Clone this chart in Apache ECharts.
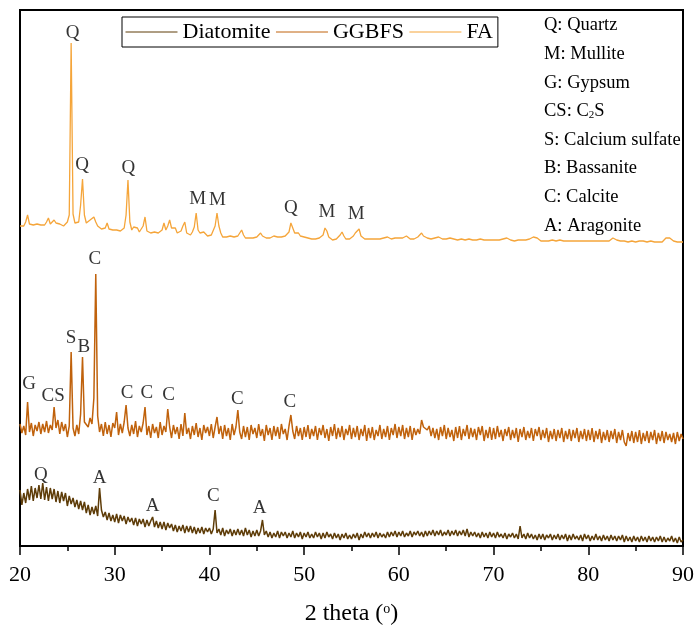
<!DOCTYPE html>
<html>
<head>
<meta charset="utf-8">
<script src="https://cdn.jsdelivr.net/npm/echarts@6/dist/echarts.min.js"></script>
<style>
  html, body { margin: 0; padding: 0; background: #fff; }
  #chart { width: 697px; height: 634px; }
</style>
</head>
<body>
<div id="chart"></div>
<script>
// XRD scans, 2θ from 20° to 90° in 0.2° steps (one row per degree)
const angleStart = 20;
const angleStep = 0.2;

const diatomite = [
  56, 41, 53, 43, 57,
  46, 60, 45, 58, 48,
  61, 47, 63, 46, 59,
  45, 58, 47, 57, 44,
  55, 43, 54, 45, 53,
  40, 50, 42, 48, 39,
  46, 37, 45, 36, 44,
  33, 41, 31, 39, 32,
  40, 30, 58, 36, 29,
  34, 26, 33, 25, 31,
  24, 32, 23, 31, 25,
  30, 22, 29, 24, 28,
  21, 28, 20, 27, 22,
  27, 19, 26, 20, 25,
  29, 19, 25, 18, 24,
  17, 24, 16, 23, 18,
  22, 15, 21, 14, 20,
  15, 21, 13, 20, 14,
  20, 13, 19, 12, 18,
  13, 19, 12, 18, 14,
  18, 12, 17, 36, 13,
  17, 11, 18, 10, 16,
  12, 17, 10, 16, 11,
  17, 11, 16, 10, 18,
  11, 16, 9, 15, 10,
  16, 10, 15, 26, 11,
  15, 9, 14, 8, 13,
  9, 15, 8, 14, 10,
  14, 8, 13, 9, 15,
  8, 13, 9, 14, 7,
  13, 9, 14, 8, 12,
  8, 14, 9, 13, 7,
  13, 8, 14, 9, 12,
  7, 13, 8, 12, 6,
  12, 8, 13, 7, 11,
  7, 12, 8, 13, 6,
  12, 8, 14, 9, 13,
  8, 13, 9, 14, 8,
  13, 9, 12, 8, 14,
  9, 14, 10, 15, 9,
  14, 10, 15, 9, 13,
  10, 15, 9, 14, 11,
  15, 10, 14, 9, 15,
  10, 15, 11, 16, 10,
  15, 11, 16, 10, 14,
  11, 16, 10, 15, 11,
  16, 10, 15, 11, 16,
  10, 17, 9, 14, 10,
  14, 9, 13, 8, 14,
  9, 13, 8, 14, 9,
  13, 8, 14, 9, 12,
  8, 13, 7, 12, 9,
  13, 8, 12, 7, 20,
  8, 12, 7, 13, 8,
  12, 7, 11, 6, 12,
  7, 12, 6, 11, 8,
  12, 6, 11, 7, 12,
  6, 11, 7, 12, 5,
  11, 6, 12, 7, 10,
  6, 11, 5, 12, 7,
  11, 5, 10, 6, 12,
  6, 10, 5, 11, 6,
  10, 5, 11, 6, 10,
  5, 10, 6, 11, 4,
  10, 5, 9, 4, 10,
  5, 9, 4, 10, 5,
  9, 4, 10, 5, 9,
  4, 9, 5, 10, 4,
  9, 4, 8, 5, 10,
  4, 8, 3, 9, 4,
  6
];

const ggbfs = [
  122, 113, 120, 111, 144,
  114, 123, 110, 121, 115,
  124, 112, 122, 114, 125,
  113, 121, 116, 139, 118,
  126, 112, 124, 115, 122,
  109, 120, 194, 118, 110,
  121, 112, 132, 189, 124,
  126, 119, 128, 122, 148,
  272, 130, 114, 122, 110,
  124, 112, 121, 109, 123,
  118, 134, 111, 122, 113,
  124, 141, 118, 110, 121,
  112, 125, 109, 120, 114,
  123, 139, 111, 120, 108,
  122, 113, 119, 108, 124,
  111, 120, 114, 137, 119,
  108, 121, 112, 119, 107,
  122, 110, 133, 112, 118,
  107, 120, 111, 123, 109,
  118, 106, 121, 113, 119,
  110, 122, 108, 119, 129,
  112, 120, 107, 121, 110,
  118, 106, 122, 111, 119,
  136, 114, 107, 120, 109,
  119, 106, 121, 112, 118,
  108, 122, 110, 117, 105,
  121, 111, 118, 106, 120,
  110, 119, 107, 122, 112,
  117, 106, 120, 131, 115,
  107, 120, 110, 118, 106,
  119, 109, 121, 107, 117,
  110, 120, 106, 118, 111,
  121, 108, 117, 105, 119,
  110, 122, 107, 118, 109,
  120, 106, 117, 111, 121,
  107, 118, 109, 120, 106,
  117, 110, 121, 105, 118,
  108, 119, 106, 116, 110,
  121, 107, 117, 109, 120,
  106, 118, 111, 122, 108,
  119, 110, 121, 107, 118,
  109, 120, 106, 118, 111,
  117, 112, 126, 119, 121,
  116, 120, 110, 118, 108,
  117, 106, 119, 110, 121,
  107, 118, 109, 116, 105,
  119, 108, 120, 106, 117,
  110, 121, 107, 118, 109,
  117, 106, 119, 111, 120,
  105, 116, 108, 119, 106,
  118, 107, 120, 109, 116,
  105, 117, 110, 119, 106,
  116, 108, 118, 104, 117,
  109, 119, 106, 115, 108,
  118, 105, 117, 110, 119,
  106, 116, 108, 118, 104,
  115, 107, 117, 105, 116,
  108, 118, 104, 115, 107,
  117, 105, 116, 108, 118,
  104, 115, 107, 117, 105,
  116, 106, 118, 104, 115,
  107, 117, 103, 114, 106,
  116, 104, 115, 107, 117,
  103, 114, 106, 116, 104,
  100, 113, 105, 115, 103,
  114, 104, 116, 102, 113,
  105, 115, 103, 114, 106,
  116, 102, 113, 105, 115,
  103, 114, 106, 112, 104,
  113, 102, 114, 105, 112,
  107
];

const fa = [
  320, 321, 320, 324, 331,
  322, 320, 321, 321, 322,
  323, 321, 320, 321, 324,
  328, 322, 323, 326, 323,
  325, 322, 321, 320, 321,
  324, 331, 503, 332, 323,
  321, 324, 341, 367, 331,
  323, 325, 326, 324, 329,
  324, 320, 318, 317, 317,
  318, 323, 317, 315, 316,
  316, 316, 316, 315, 316,
  318, 331, 366, 324, 316,
  319, 317, 318, 314, 316,
  320, 329, 315, 314, 313,
  313, 314, 313, 313, 314,
  316, 323, 316, 320, 326,
  318, 316, 318, 313, 313,
  315, 320, 324, 313, 311,
  311, 314, 319, 333, 316,
  313, 311, 314, 312, 310,
  310, 311, 313, 320, 333,
  320, 313, 309, 309, 309,
  309, 310, 309, 309, 309,
  310, 313, 316, 311, 308,
  308, 308, 309, 308, 308,
  309, 310, 313, 310, 308,
  308, 308, 308, 309, 310,
  310, 309, 310, 309, 310,
  310, 311, 314, 323, 318,
  313, 312, 313, 310, 308,
  309, 309, 308, 307, 307,
  307, 307, 307, 308, 309,
  311, 318, 315, 309, 307,
  306, 306, 307, 308, 311,
  314, 310, 307, 306, 307,
  308, 310, 313, 315, 317,
  310, 308, 307, 307, 307,
  307, 307, 306, 307, 307,
  307, 307, 308, 308, 309,
  308, 307, 307, 308, 308,
  308, 307, 308, 309, 310,
  308, 307, 307, 307, 308,
  309, 311, 313, 310, 309,
  308, 308, 307, 308, 308,
  309, 309, 308, 307, 307,
  307, 307, 308, 307, 307,
  307, 306, 307, 307, 307,
  306, 307, 307, 307, 306,
  307, 306, 307, 307, 306,
  306, 307, 306, 306, 306,
  306, 306, 307, 306, 306,
  307, 309, 308, 306, 306,
  306, 305, 306, 306, 306,
  306, 306, 306, 306, 307,
  308, 309, 309, 308, 306,
  305, 305, 305, 305, 305,
  305, 306, 305, 305, 305,
  306, 305, 305, 305, 305,
  305, 305, 306, 305, 305,
  305, 305, 305, 306, 305,
  305, 305, 305, 305, 305,
  305, 306, 305, 305, 305,
  305, 305, 307, 308, 308,
  306, 305, 305, 305, 305,
  305, 304, 305, 305, 305,
  304, 305, 305, 304, 305,
  305, 304, 304, 305, 304,
  304, 305, 304, 304, 304,
  306, 308, 309, 308, 306,
  305, 304, 304, 304, 304,
  304
];

// Phase markers: [letter, 2θ, height]
const diatomitePeaks = [
  ['Q', 22.2, 71], ['A', 28.4, 68], ['A', 34.0, 40], ['C', 40.4, 50], ['A', 45.3, 38]
];
const ggbfsPeaks = [
  ['G', 20.95, 162], ['CS', 23.5, 150], ['S', 25.4, 208], ['B', 26.75, 199],
  ['C', 27.9, 287], ['C', 31.3, 153], ['C', 33.4, 153], ['C', 35.7, 151],
  ['C', 42.95, 147], ['C', 48.5, 144]
];
const faPeaks = [
  ['Q', 25.55, 513], ['Q', 26.55, 381], ['Q', 31.45, 378], ['M', 38.75, 347],
  ['M', 40.85, 346], ['Q', 48.6, 338], ['M', 52.4, 334], ['M', 55.5, 332]
];

const seriesNames = ['Diatomite', 'GGBFS', 'FA'];
const xTicks = { min: 20, max: 90, interval: 10 };

// Phase key shown at the upper right
const phaseKey = [
  'Q: Quartz',
  'M: Mullite',
  'G: Gypsum',
  'CS: C{sub|2}S',
  'S: Calcium sulfate',
  'B: Bassanite',
  'C: Calcite',
  'A: Aragonite'
];

const serif = '"Liberation Serif", "Times New Roman", serif';
const colors = ['#5E3C08', '#C0620C', '#F5A53A'];
const widths = [1.5, 1.5, 1.3];

function toPairs(values) {
  return values.map((v, i) => [+(angleStart + i * angleStep).toFixed(2), v]);
}

function peakSeries(peaks) {
  return {
    type: 'scatter',
    symbolSize: 1,
    itemStyle: { color: 'rgba(0,0,0,0)' },
    silent: true,
    z: 5,
    data: peaks.map(p => ({ name: p[0], value: [p[1], p[2]] })),
    label: {
      show: true,
      position: 'inside',
      formatter: p => p.name,
      color: '#000',
      fontFamily: serif,
      fontSize: 19
    }
  };
}

const chart = echarts.init(document.getElementById('chart'), null, { renderer: 'canvas' });

const lineSeries = [diatomite, ggbfs, fa].map((vals, k) => ({
  name: seriesNames[k],
  type: 'line',
  symbol: 'none',
  showSymbol: false,
  animation: false,
  lineStyle: { color: colors[k], width: widths[k] },
  itemStyle: { color: colors[k] },
  data: toPairs(vals)
}));

chart.setOption({
  animation: false,
  backgroundColor: '#fff',
  grid: {
    left: 20, right: 12, top: 10, bottom: 88,
    show: true, borderColor: '#000', borderWidth: 2
  },
  legend: {
    data: seriesNames,
    left: 122, top: 17,
    padding: [4, 5, 4, 3],
    itemGap: 5,
    itemWidth: 52,
    itemHeight: 14,
    borderColor: '#000',
    borderWidth: 1,
    itemStyle: { opacity: 0, borderWidth: 0 },
    lineStyle: { width: 1 },
    textStyle: { fontFamily: serif, fontSize: 22, color: '#000' }
  },
  xAxis: {
    type: 'value',
    min: xTicks.min, max: xTicks.max, interval: xTicks.interval,
    axisLine: { show: true, onZero: false, lineStyle: { color: '#000', width: 2 } },
    axisTick: { show: true, inside: false, length: 9, lineStyle: { color: '#000', width: 1.5 } },
    minorTick: { show: true, splitNumber: 2, length: 5, lineStyle: { color: '#000', width: 1.5 } },
    splitLine: { show: false },
    axisLabel: { color: '#000', fontFamily: serif, fontSize: 22, margin: 18 },
    name: '2 theta ({sup|o})',
    nameLocation: 'middle',
    nameGap: 56,
    nameTextStyle: {
      color: '#000', fontFamily: serif, fontSize: 24,
      rich: { sup: { fontFamily: serif, fontSize: 14, verticalAlign: 'top', lineHeight: 14, color: '#000' } }
    }
  },
  yAxis: { type: 'value', min: 0, max: 536, show: false },
  graphic: phaseKey.map((t, i) => ({
    type: 'text',
    left: 544,
    top: 16 + i * 28.6,
    style: {
      text: t,
      fill: '#000',
      font: '18.5px ' + serif,
      rich: { sub: { fontSize: 11, fontFamily: serif, verticalAlign: 'bottom', lineHeight: 12, fill: '#000' } }
    }
  })),
  series: [
    ...lineSeries,
    peakSeries(diatomitePeaks),
    peakSeries(ggbfsPeaks),
    peakSeries(faPeaks)
  ]
});
</script>
</body>
</html>
